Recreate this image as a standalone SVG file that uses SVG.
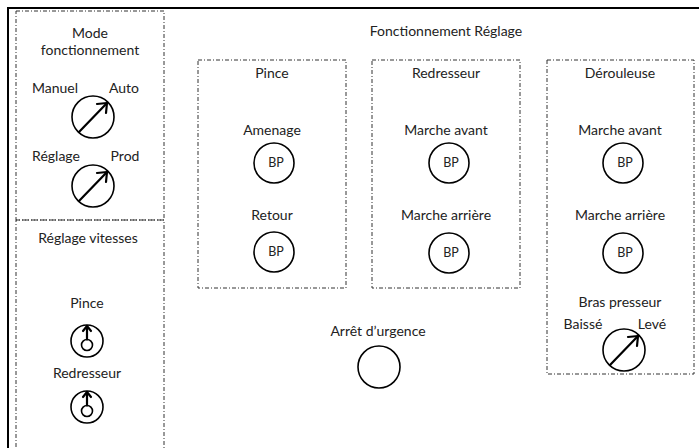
<svg xmlns="http://www.w3.org/2000/svg" width="699" height="448" viewBox="0 0 699 448">
<defs>
<style>
.t{font-family:Lato,"Noto Sans","Liberation Sans",sans-serif;font-size:14px;fill:#222;text-anchor:middle}
.bp{font-family:Lato,"Noto Sans","Liberation Sans",sans-serif;font-size:12.5px;fill:#222;text-anchor:middle}
.box{fill:none;stroke:#333;stroke-width:1;stroke-dasharray:4 2 1 2}
.c{fill:#fff;stroke:#000;stroke-width:1.6}
.arr{fill:none;stroke:#000;stroke-width:2.2;stroke-linecap:round;stroke-linejoin:round}
</style>
<g id="dial">
<circle class="c" cx="0" cy="0" r="21"/>
<line class="arr" x1="-14" y1="15" x2="14" y2="-14"/>
<polyline class="arr" points="4,-13 14,-14 13,-4"/>
</g>
<g id="knob">
<circle class="c" cx="0" cy="0" r="16"/>
<circle class="c" cx="0" cy="4" r="5.5"/>
<line class="arr" x1="0" y1="-1.5" x2="0" y2="-15"/>
<polyline class="arr" points="-4,-10 0,-15 4,-10"/>
</g>
</defs>
<rect width="699" height="448" fill="#fff"/>
<rect x="8" y="8" width="700" height="450" fill="none" stroke="#000" stroke-width="2"/>

<g id="mode-fonctionnement">
<rect class="box" x="16" y="11" width="148" height="209"/>
<text class="t" x="90" y="38">Mode</text>
<text class="t" x="90" y="55">fonctionnement</text>
<text class="t" x="55" y="93">Manuel</text>
<text class="t" x="124" y="93">Auto</text>
<use href="#dial" x="93" y="117"/>
<text class="t" x="56" y="161">Réglage</text>
<text class="t" x="125" y="161">Prod</text>
<use href="#dial" x="93" y="186"/>
</g>

<g id="reglage-vitesses">
<rect class="box" x="16" y="220" width="148" height="240"/>
<text class="t" x="88" y="243">Réglage vitesses</text>
<text class="t" x="87" y="308">Pince</text>
<use href="#knob" x="87" y="341"/>
<text class="t" x="87" y="378">Redresseur</text>
<use href="#knob" x="87" y="407"/>
</g>

<g id="fonctionnement-reglage">
<text class="t" x="446" y="36">Fonctionnement Réglage</text>
</g>

<g id="pince">
<rect class="box" x="198" y="60" width="148" height="228"/>
<text class="t" x="272" y="78">Pince</text>
<text class="t" x="272" y="135">Amenage</text>
<circle class="c" cx="274" cy="163" r="20"/>
<text class="bp" x="276" y="167">BP</text>
<text class="t" x="272" y="220">Retour</text>
<circle class="c" cx="274" cy="252" r="20"/>
<text class="bp" x="276" y="256">BP</text>
</g>

<g id="redresseur">
<rect class="box" x="372" y="60" width="148" height="228"/>
<text class="t" x="446" y="78">Redresseur</text>
<text class="t" x="446" y="135">Marche avant</text>
<circle class="c" cx="449" cy="163" r="20"/>
<text class="bp" x="451" y="167">BP</text>
<text class="t" x="446" y="220">Marche arrière</text>
<circle class="c" cx="449" cy="253" r="20"/>
<text class="bp" x="451" y="257">BP</text>
</g>

<g id="derouleuse">
<rect class="box" x="547" y="60" width="147" height="314"/>
<text class="t" x="620" y="78">Dérouleuse</text>
<text class="t" x="620" y="135">Marche avant</text>
<circle class="c" cx="623" cy="163" r="20"/>
<text class="bp" x="625" y="167">BP</text>
<text class="t" x="620" y="220">Marche arrière</text>
<circle class="c" cx="623" cy="253" r="20"/>
<text class="bp" x="625" y="257">BP</text>
<text class="t" x="620" y="307">Bras presseur</text>
<text class="t" x="583" y="329">Baissé</text>
<text class="t" x="652" y="329">Levé</text>
<use href="#dial" x="624" y="350"/>
</g>

<g id="arret-urgence">
<text class="t" x="378" y="336">Arrêt d’urgence</text>
<circle class="c" cx="379" cy="367" r="21"/>
</g>
<g id="connectors"/>
</svg>
